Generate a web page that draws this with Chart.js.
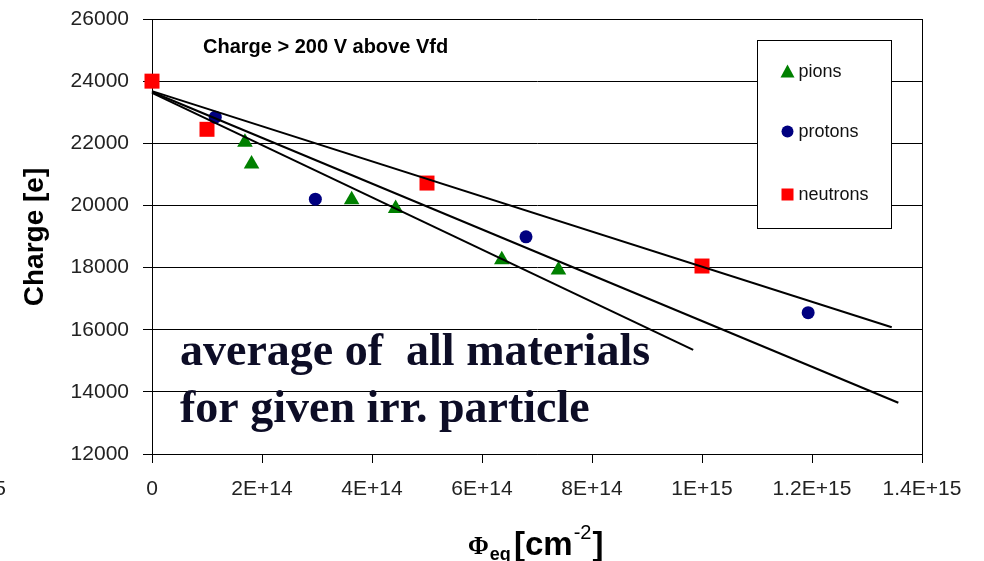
<!DOCTYPE html>
<html>
<head>
<meta charset="utf-8">
<script src="https://cdn.jsdelivr.net/npm/chart.js@4.4.1/dist/chart.umd.min.js"></script>
<style>
  html, body { margin: 0; padding: 0; background: #fff; }
  canvas { display: block; }
</style>
</head>
<body>
<canvas id="myChart" width="984" height="561"></canvas>
<script>
// measured points: fluence (cm-2) and charge (e)
var pionFluence = [1.69e14, 1.81e14, 3.63e14, 4.43e14, 6.36e14, 7.39e14];
var pionCharge = [22030, 21330, 20180, 19900, 18250, 17920];

var protonFluence = [1.15e14, 2.97e14, 6.8e14, 1.193e15];
var protonCharge = [22840, 20200, 18990, 16550];

var neutronFluence = [0, 1e14, 5e14, 1e15];
var neutronCharge = [24000, 22450, 20720, 18050];

// straight-line fits (start / end)
var pionFitFluence = [0, 9.84e14];
var pionFitCharge = [23620, 15350];
var protonFitFluence = [0, 1.357e15];
var protonFitCharge = [23650, 13650];
var neutronFitFluence = [0, 1.345e15];
var neutronFitCharge = [23680, 16080];

var legendLabels = ["pions", "protons", "neutrons"];
var chartNote = "Charge > 200 V above Vfd";
var overlayLines = ["average of  all materials", "for given irr. particle"];

function toPoints(xs, ys) {
  return xs.map(function (x, i) { return { x: x, y: ys[i] }; });
}

function sciLabel(v) {
  if (v === 0) return "0";
  var e = Math.floor(Math.log10(v) + 1e-9);
  var m = parseFloat((v / Math.pow(10, e)).toFixed(2));
  return m + "E+" + e;
}

function fitLine(xs, ys) {
  return {
    data: toPoints(xs, ys),
    showLine: true,
    borderColor: "#000",
    borderWidth: 2,
    pointRadius: 0,
    fill: false,
    clip: false,
    order: 0
  };
}

// titles, legend box, plot border and the overlay text
var extras = {
  id: "extras",
  afterDraw: function (chart) {
    var c = chart.ctx, a = chart.chartArea;
    c.save();

    // right border of the plot area
    c.strokeStyle = "#000";
    c.lineWidth = 1;
    var rx = Math.round(a.right) + 0.5;
    c.beginPath();
    c.moveTo(rx, a.top);
    c.lineTo(rx, a.bottom);
    c.stroke();

    // legend box
    var lx = Math.round(a.right - 165) + 0.5, ly = Math.round(a.top + 21) + 0.5;
    c.fillStyle = "#fff";
    c.fillRect(lx, ly, 134, 188);
    c.strokeRect(lx, ly, 134, 188);
    var rows = [31, 91, 154];
    var mx = lx + 30;
    // triangle
    c.fillStyle = "#008000";
    c.beginPath();
    c.moveTo(mx, ly + rows[0] - 7);
    c.lineTo(mx + 7, ly + rows[0] + 6);
    c.lineTo(mx - 7, ly + rows[0] + 6);
    c.closePath();
    c.fill();
    // circle
    c.fillStyle = "#000080";
    c.beginPath();
    c.arc(mx, ly + rows[1], 6, 0, Math.PI * 2);
    c.fill();
    // square
    c.fillStyle = "#ff0000";
    c.fillRect(mx - 6, ly + rows[2] - 6, 12, 12);

    c.fillStyle = "#111";
    c.font = '18px "Liberation Sans", Arial, sans-serif';
    c.textBaseline = "middle";
    c.textAlign = "left";
    legendLabels.forEach(function (t, i) {
      c.fillText(t, mx + 11, ly + rows[i] + 1);
    });

    // note inside the plot
    c.font = 'bold 20px "Liberation Sans", Arial, sans-serif';
    c.fillStyle = "#000";
    c.fillText(chartNote, 203, 47);

    // y axis title
    c.save();
    c.translate(35, 237);
    c.rotate(-Math.PI / 2);
    c.textAlign = "center";
    c.font = 'bold 28px "Liberation Sans", Arial, sans-serif';
    c.fillText("Charge [e]", 0, 0);
    c.restore();

    // x axis title: Phi_eq [cm^-2]
    c.textBaseline = "alphabetic";
    c.textAlign = "left";
    var x = 468;
    c.font = 'bold 25px "Liberation Serif", "Times New Roman", serif';
    c.fillText("\u03A6", x, 554);
    x += c.measureText("\u03A6").width + 1;
    c.font = 'bold 18px "Liberation Sans", Arial, sans-serif';
    c.fillText("eq", x, 560);
    x = 514;
    c.font = 'bold 33px "Liberation Sans", Arial, sans-serif';
    c.fillText("[cm", x, 555);
    x += c.measureText("[cm").width + 1;
    c.font = '20px "Liberation Sans", Arial, sans-serif';
    c.fillText("-2", x, 539);
    x += c.measureText("-2").width + 1;
    c.font = 'bold 33px "Liberation Sans", Arial, sans-serif';
    c.fillText("]", x, 555);

    // cut-off label at the left edge
    c.font = '21px "Liberation Sans", Arial, sans-serif';
    c.fillStyle = "#222";
    c.textAlign = "right";
    c.textBaseline = "middle";
    c.fillText("1.4E+15", 6, 489);

    // overlay text
    c.textAlign = "left";
    c.textBaseline = "alphabetic";
    c.fillStyle = "#0d0d26";
    c.font = 'bold 46px "Liberation Serif", "Times New Roman", serif';
    c.fillText(overlayLines[0], 180, 365);
    c.fillText(overlayLines[1], 180, 422);

    c.restore();
  }
};

var ctx = document.getElementById("myChart").getContext("2d");

var myChart = new Chart(ctx, {
  type: "scatter",
  data: {
    datasets: [
      fitLine(pionFitFluence, pionFitCharge),
      fitLine(protonFitFluence, protonFitCharge),
      fitLine(neutronFitFluence, neutronFitCharge),
      {
        label: legendLabels[0],
        data: toPoints(pionFluence, pionCharge),
        pointStyle: "triangle",
        pointRadius: 9,
        pointHoverRadius: 9,
        backgroundColor: "#008000",
        borderColor: "#008000",
        borderWidth: 0,
        clip: false,
        order: 1
      },
      {
        label: legendLabels[1],
        data: toPoints(protonFluence, protonCharge),
        pointStyle: "circle",
        pointRadius: 6.5,
        pointHoverRadius: 6.5,
        backgroundColor: "#000080",
        borderColor: "#000080",
        borderWidth: 0,
        clip: false,
        order: 1
      },
      {
        label: legendLabels[2],
        data: toPoints(neutronFluence, neutronCharge),
        pointStyle: "rect",
        pointRadius: 10.6,
        pointHoverRadius: 10.6,
        backgroundColor: "#ff0000",
        borderColor: "#ff0000",
        borderWidth: 0,
        clip: false,
        order: 1
      }
    ]
  },
  options: {
    responsive: false,
    animation: false,
    layout: { padding: { left: 0, right: 62, top: 19, bottom: 0 } },
    plugins: {
      legend: { display: false },
      tooltip: { enabled: false }
    },
    scales: {
      x: {
        type: "linear",
        min: 0,
        max: 1.4e15,
        afterFit: function (s) {
          s.height = 107;
          s.paddingLeft = 0;
          s.paddingRight = 0;
        },
        grid: {
          drawOnChartArea: false,
          drawTicks: true,
          tickLength: 9,
          tickColor: "#000",
          color: "#000"
        },
        border: { display: true, color: "#000", width: 1 },
        ticks: {
          stepSize: 2e14,
          padding: 14,
          color: "#222",
          maxRotation: 0,
          font: { family: '"Liberation Sans", Arial, sans-serif', size: 21 },
          callback: function (v) { return sciLabel(v); }
        }
      },
      y: {
        min: 12000,
        max: 26000,
        afterFit: function (s) {
          s.width = 152;
          s.paddingTop = 0;
          s.paddingBottom = 0;
        },
        grid: {
          drawTicks: true,
          tickLength: 9,
          color: "#000",
          tickColor: "#000",
          lineWidth: 1
        },
        border: { display: true, color: "#000", width: 1 },
        ticks: {
          stepSize: 2000,
          padding: 14,
          color: "#222",
          font: { family: '"Liberation Sans", Arial, sans-serif', size: 21 },
          callback: function (v) { return String(v); }
        }
      }
    }
  },
  plugins: [extras]
});
</script>
</body>
</html>
